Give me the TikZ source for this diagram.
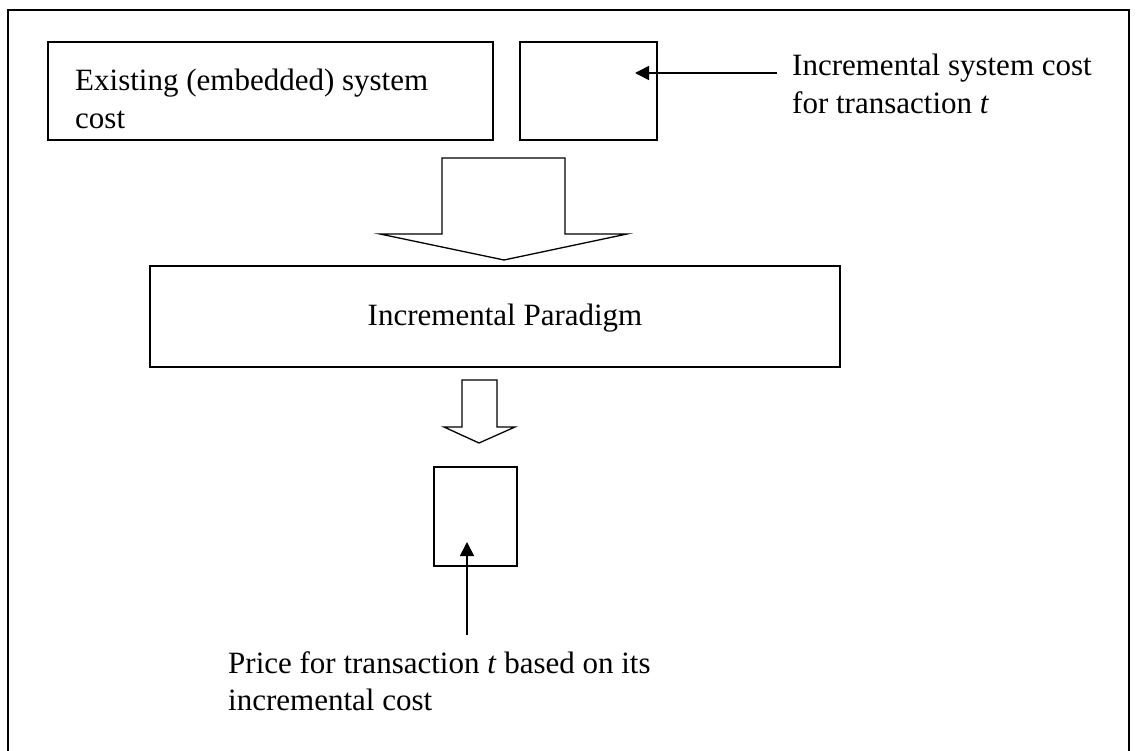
\documentclass[tikz,border=0pt]{standalone}
\usepackage{fontspec}
\setmainfont{Liberation Serif}
\usetikzlibrary{arrows.meta}
\tikzset{
  box/.style={draw, line width=1.4pt, inner sep=0pt},
  label/.style={inner sep=0pt, font=\fontsize{31}{37.5}\selectfont, align=left},
  blockarrow/.style={draw, line width=1.3pt, line join=miter, fill=white},
  pointer/.style={line width=1.6pt, -{Triangle[length=14pt,width=14pt]}}
}
\begin{document}
\begin{tikzpicture}[x=1pt,y=-1pt]
\useasboundingbox (0,0) rectangle (1136,751);
% outer frame
\draw[line width=2pt] (8,760) -- (8,10) -- (1129,10) -- (1129,760);

% top row: embedded cost and incremental cost boxes
\node[box, minimum width=445pt, minimum height=98pt] (embedded) at (270.5,91) {};
\node[label, anchor=north west] (embtext) at (75,69) {Existing (embedded) system\\cost};
\node[box, minimum width=137pt, minimum height=98pt] (incbox) at (588.5,91) {};
\node[label, anchor=north west] (inctext) at (792,54) {Incremental system cost\\for transaction \textit{t}};
\coordinate (incfrom) at (777,73);
\coordinate (incto) at (635,73);
\draw[pointer] (incfrom) -- (incto);

% wide block arrow into the paradigm
\draw[blockarrow] (442,158) -- (565,158) -- (565,234) -- (627,234) -- (504,260)
  -- (380,234) -- (442,234) -- cycle;

% paradigm box
\node[box, minimum width=690pt, minimum height=101pt] (paradigm) at (495,316.5) {};
\node[label, anchor=base] (partext) at (505,326) {Incremental Paradigm};

% narrow block arrow to the price
\draw[blockarrow] (462,380) -- (497,380) -- (497,427) -- (515,427) -- (479,443)
  -- (444,427) -- (462,427) -- cycle;

% price box and its label
\node[box, minimum width=83pt, minimum height=99pt] (pricebox) at (475.5,516.5) {};
\node[label, anchor=north west] (pricetext) at (228,651) {Price for transaction \textit{t} based on its\\incremental cost};
\coordinate (pricefrom) at (467,635);
\coordinate (priceto) at (467,542);
\draw[pointer] (pricefrom) -- (priceto);
\end{tikzpicture}
\end{document}
